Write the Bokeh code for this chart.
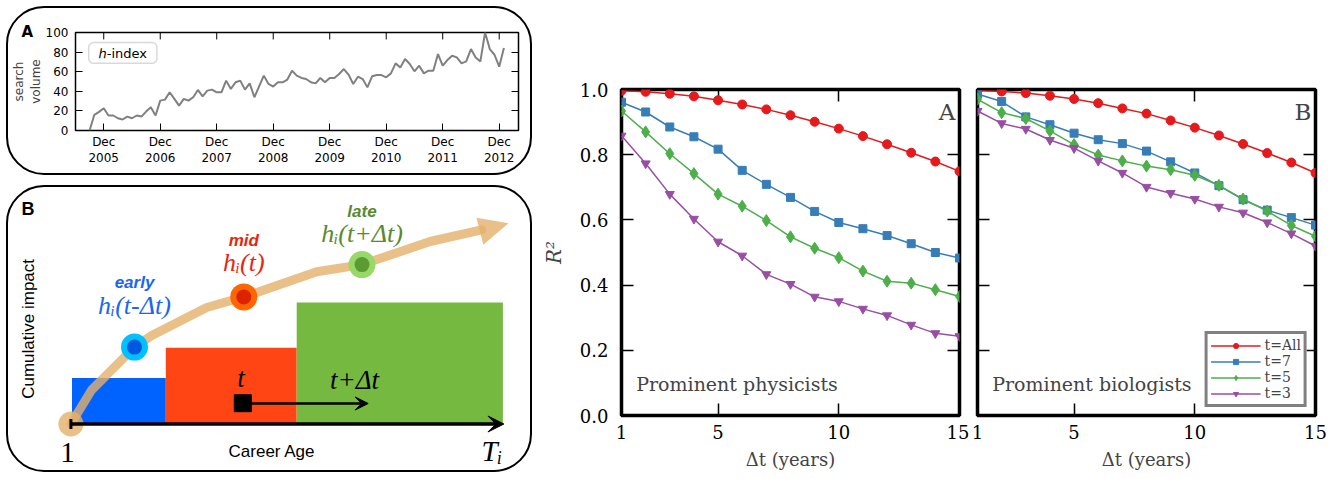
import math
from bokeh.plotting import figure
from bokeh.layouts import row, column
from bokeh.models import (Range1d, LinearAxis, FixedTicker, PrintfTickFormatter, Label, Title,
                          BoxAnnotation, Arrow, VeeHead, TeeHead, Legend, LegendItem, Spacer)
from bokeh.core.properties import value
from bokeh.embed import file_html
from bokeh.resources import INLINE

# ---------------- Panel A (left top): search volume of "h-index", monthly from Sep 2005
search_volume = [0, 16, 19, 22.7, 15.3, 15.3, 12.5, 11.2, 14.2, 12.5, 15.3, 14.2, 19.3, 23.7,
                 15.3, 30.5, 31.5, 39, 32.2, 25.4, 32.2, 30.5, 33.9, 41.4, 34.9, 40.7, 41.7,
                 39, 39, 50.9, 42.4, 49.2, 50.9, 41.7, 48.1, 33.9, 45, 56, 47.5, 44.8, 49.2,
                 49.2, 52, 61, 56, 53.6, 52.5, 49.2, 48.1, 53.6, 49.2, 53.6, 53.6, 57.6, 62.7,
                 57, 47.5, 54.9, 52.5, 44, 55.3, 56.6, 56.6, 54.3, 58.3, 68.5, 64.4, 72.9,
                 67.8, 60.4, 66.1, 58.3, 61, 61, 78, 66.1, 71.9, 76.3, 74.6, 68.5, 70.5, 83.1,
                 74.6, 70.5, 100, 83.1, 77.3, 65.1, 84.1]
month_index = list(range(len(search_volume)))          # months since Sep 2005
dec_ticks = [3, 15, 27, 39, 51, 63, 75, 87]
dec_labels = ["Dec\n2005", "Dec\n2006", "Dec\n2007", "Dec\n2008",
              "Dec\n2009", "Dec\n2010", "Dec\n2011", "Dec\n2012"]
volume_ticks = [0, 20, 40, 60, 80, 100]

# ---------------- Right panels: R^2 vs Delta t
dt_years = list(range(1, 16))
series_labels = ["t=All", "t=7", "t=5", "t=3"]
phys_all = [0.996, 0.993, 0.987, 0.979, 0.967, 0.954, 0.939, 0.921, 0.901, 0.880, 0.857, 0.832, 0.806, 0.779, 0.749]
phys_t7 = [0.961, 0.931, 0.885, 0.855, 0.817, 0.752, 0.709, 0.669, 0.626, 0.592, 0.573, 0.552, 0.527, 0.500, 0.483]
phys_t5 = [0.934, 0.870, 0.803, 0.742, 0.679, 0.642, 0.598, 0.548, 0.513, 0.484, 0.443, 0.412, 0.406, 0.386, 0.365]
phys_t3 = [0.858, 0.773, 0.679, 0.603, 0.533, 0.490, 0.433, 0.403, 0.364, 0.350, 0.327, 0.307, 0.278, 0.252, 0.243]
bio_all = [0.997, 0.994, 0.989, 0.981, 0.971, 0.958, 0.942, 0.926, 0.905, 0.883, 0.859, 0.833, 0.805, 0.776, 0.744]
bio_t7 = [0.986, 0.963, 0.916, 0.892, 0.866, 0.846, 0.834, 0.811, 0.778, 0.744, 0.705, 0.662, 0.630, 0.607, 0.584]
bio_t5 = [0.970, 0.929, 0.911, 0.873, 0.831, 0.799, 0.781, 0.765, 0.754, 0.737, 0.706, 0.664, 0.627, 0.583, 0.550]
bio_t3 = [0.934, 0.896, 0.879, 0.845, 0.820, 0.781, 0.744, 0.701, 0.682, 0.664, 0.640, 0.622, 0.592, 0.558, 0.520]
r2_ticks = [0.0, 0.2, 0.4, 0.6, 0.8, 1.0]
dt_ticks = [1, 5, 10, 15]

# ---------------- Schematic panel B geometry (drawing units = pixels of the panel)
phase_left = [71.5, 165.3, 296.2]
phase_right = [165.3, 296.2, 502.4]
phase_top = [377.6, 347.2, 302.0]
phase_bottom = [423.5, 423.5, 423.5]
phase_colors = ["#0062FF", "#FF4514", "#76B940"]
curve_x = [70.4, 91.1, 134, 151.2, 206.2, 243.3, 316.2, 361.5, 429.6, 481.1]
curve_y = [423.5, 389.5, 346.6, 335, 307, 296.4, 271.3, 264.1, 241, 229.4]
head_x = [476, 482.8, 508]
head_y = [217.2, 244.3, 222.8]
stage_x = [134, 243.3, 361.5]
stage_y = [346.6, 296.4, 264.1]
stage_outer = ["#00C0FF", "#FF6600", "#98D868"]
stage_inner = ["#0058E0", "#DD2200", "#5C9A34"]
stage_names = ["early", "mid", "late"]
stage_formulas = ["hᵢ(t-Δt)", "hᵢ(t)", "hᵢ(t+Δt)"]
stage_text_colors = ["#1A66F0", "#E8260E", "#5A8A2E"]
name_y = [282.2, 240.3, 211.3]
formula_y = [304.7, 262.4, 232.7]

SANS = "DejaVu Sans"
SERIF = "DejaVu Serif"
TAN = "#E3B06A"


def style_axis(ax, font, size, tick_len, ticks, lw=1.0, labels=True, standoff=6):
    ax.ticker = FixedTicker(ticks=ticks)
    ax.axis_line_color = None
    ax.major_tick_in = tick_len
    ax.major_tick_out = 0
    ax.minor_tick_in = 0
    ax.minor_tick_out = 0
    ax.minor_tick_line_color = None
    ax.major_tick_line_width = lw
    ax.major_tick_line_color = "black"
    ax.major_label_text_font = font
    ax.major_label_text_font_size = size
    if labels:
        ax.major_label_text_color = "black"
        ax.major_label_standoff = standoff
    else:
        ax.major_label_overrides = {t: "" for t in ticks}
        ax.major_label_text_color = None
        ax.major_label_standoff = 0


# ================= Figure A (time series)
figA = figure(width=522, height=165, x_range=Range1d(-3, 91.1), y_range=Range1d(0, 100),
              min_border_left=66, min_border_right=12, min_border_top=24, min_border_bottom=43,
              toolbar_location=None, output_backend="svg")
figA.background_fill_color = None
figA.border_fill_color = None
figA.grid.visible = False
figA.outline_line_color = "black"
figA.outline_line_width = 1.5
figA.line(month_index, search_volume, line_color="#808080", line_width=2)
# inward ticks on the top spine
figA.segment(x0=dec_ticks, y0=[100] * len(dec_ticks), x1=dec_ticks, y1=[92.9] * len(dec_ticks),
             line_color="black", line_width=1)

xa = figA.xaxis[0]
style_axis(xa, SANS, "12px", 7, dec_ticks, standoff=4)
xa.major_label_overrides = {t: lab for t, lab in zip(dec_ticks, dec_labels)}
ya = figA.yaxis[0]
style_axis(ya, SANS, "12px", 7, volume_ticks, standoff=7)
ya.axis_label = "search\nvolume"
ya.axis_label_text_font = SANS
ya.axis_label_text_font_size = "12px"
ya.axis_label_text_font_style = "normal"
ya.axis_label_standoff = 0
rightA = LinearAxis()
style_axis(rightA, SANS, "12px", 7, volume_ticks, labels=False)
figA.add_layout(rightA, "right")
figA.add_layout(Title(text="A", align="left", offset=-54, standoff=-17, vertical_align="bottom",
                      text_font=SANS, text_font_style="bold", text_font_size="15px",
                      text_color="black"), "above")

figA.add_layout(BoxAnnotation(left=-0.2, right=14.3, top=89.8, bottom=68.5,
                              fill_color="white", fill_alpha=1.0, line_color="#808080",
                              line_width=1.5, border_radius=5))
figA.add_layout(Label(x=7.05, y=79, text="ℎ-index", text_font=SANS, text_font_size="13px",
                      text_align="center", text_baseline="middle", text_color="black"))

# ================= Figure B (schematic)
figB = figure(width=522, height=283, x_range=Range1d(8, 530), y_range=Range1d(470, 187),
              min_border=0, x_axis_location=None, y_axis_location=None,
              toolbar_location=None, output_backend="svg")
figB.background_fill_color = None
figB.border_fill_color = None
figB.outline_line_color = None
figB.grid.visible = False

figB.quad(left=phase_left, right=phase_right, top=phase_top, bottom=phase_bottom,
          fill_color=phase_colors, line_color=None)
figB.add_layout(Arrow(x_start=curve_x[0], y_start=phase_bottom[0], x_end=phase_right[2] + 1,
                      y_end=phase_bottom[0], line_width=3.5, line_color="black",
                      start=TeeHead(size=10, line_width=3, line_color="black"),
                      end=VeeHead(size=16, fill_color="black", line_color="black")))
figB.scatter([242.3], [402.7], marker="square", size=17, fill_color="black", line_color="black")
figB.add_layout(Arrow(x_start=242.3, y_start=403, x_end=367.7, y_end=403, line_width=2.5,
                      line_color="black",
                      end=VeeHead(size=13, fill_color="black", line_color="black")))
figB.text(x=[240.5, 354], y=[377.9, 379.6], text=["t", "t+Δt"],
          text_font=value("Liberation Serif"), text_font_style="italic", text_font_size="27px",
          text_align="center", text_baseline="middle", text_color="black")

figB.line(curve_x, curve_y, line_color=TAN, line_width=9, line_alpha=0.8,
          line_join="round", line_cap="round")
figB.patch(head_x, head_y, fill_color=TAN, fill_alpha=0.8, line_color=None)
figB.scatter([curve_x[0]], [curve_y[0]], marker="circle", size=25, fill_color=TAN,
             fill_alpha=0.8, line_color=None)
figB.scatter(stage_x, stage_y, marker="circle", size=27, fill_color=stage_outer, line_color=None)
figB.scatter(stage_x, stage_y, marker="circle", size=15, fill_color=stage_inner, line_color=None)

figB.text(x=stage_x, y=name_y, text=stage_names, text_font=value("Liberation Sans"),
          text_font_style="bold italic", text_font_size="17px", text_align="center",
          text_baseline="middle", text_color=stage_text_colors)
figB.text(x=stage_x, y=formula_y, text=stage_formulas, text_font=value("Liberation Serif"),
          text_font_style="italic", text_font_size="26px", text_align="center",
          text_baseline="middle", text_color=stage_text_colors)
figB.text(x=[67], y=[452.2], text=["1"], text_font=value("Liberation Serif"),
          text_font_size="29px", text_align="center", text_baseline="middle", text_color="black")
figB.text(x=[491.4], y=[450.5], text=["Tᵢ"], text_font=value("Liberation Serif"),
          text_font_style="italic", text_font_size="29px", text_align="center",
          text_baseline="middle", text_color="black")
figB.text(x=[271.5], y=[450.5], text=["Career Age"], text_font=value("Liberation Sans"),
          text_font_size="17px", text_align="center", text_baseline="middle", text_color="black")
figB.text(x=[27.5], y=[328.4], text=["Cumulative impact"], text_font=value("Liberation Sans"),
          text_font_size="17px", text_align="center", text_baseline="middle",
          text_color="black", angle=math.pi / 2)
figB.text(x=[27.5], y=[208], text=["B"], text_font=value("Liberation Sans"),
          text_font_style="bold", text_font_size="18px", text_align="center",
          text_baseline="middle", text_color="black")

# ================= Right panels
colors = ["#E41A1C", "#377EB8", "#4DAF4A", "#984EA3"]
markers = ["circle", "square", "diamond", "inverted_triangle"]
msizes = [9, 8, 12, 9]


def make_panel(series, letter, group_text, width, bl, br, ylabels):
    p = figure(width=width, height=475, x_range=Range1d(1, 15), y_range=Range1d(0, 1),
               min_border_left=bl, min_border_right=br, min_border_top=89, min_border_bottom=60,
               toolbar_location=None, output_backend="svg")
    p.grid.visible = False
    p.outline_line_color = "black"
    p.outline_line_width = 3.5
    rends = []
    for vals, c, m, s in zip(series, colors, markers, msizes):
        ln = p.line(dt_years, vals, line_color=c, line_width=1.5)
        sc = p.scatter(dt_years, vals, marker=m, size=s, fill_color=c, line_color=c)
        rends.append([ln, sc])
    xa = p.xaxis[0]
    style_axis(xa, SERIF, "18px", 12, dt_ticks, lw=1.5, standoff=9)
    xa.axis_label = "Δt (years)"
    xa.axis_label_text_font = SERIF
    xa.axis_label_text_font_size = "18px"
    xa.axis_label_text_font_style = "normal"
    xa.axis_label_standoff = 7
    ya = p.yaxis[0]
    style_axis(ya, SERIF, "18px", 12, r2_ticks, lw=1.5, labels=ylabels, standoff=13)
    if ylabels:
        ya.formatter = PrintfTickFormatter(format="%.1f")
        ya.axis_label = "R²"
        ya.axis_label_text_font = SERIF
        ya.axis_label_text_font_size = "20px"
        ya.axis_label_text_font_style = "italic"
        ya.axis_label_standoff = 11
    top = LinearAxis(level="underlay")
    style_axis(top, SERIF, "18px", 12, dt_ticks, lw=1.5, labels=False)
    p.add_layout(top, "above")
    right = LinearAxis(level="underlay")
    style_axis(right, SERIF, "18px", 12, r2_ticks, lw=1.5, labels=False)
    p.add_layout(right, "right")
    p.add_layout(Label(x=1.61, y=0.097, text=group_text, text_font=SERIF,
                       text_font_size="19px", text_baseline="middle", text_align="left"))
    p.add_layout(Label(x=14.48, y=0.93, text=letter, text_font=SERIF,
                       text_font_size="23px", text_baseline="middle", text_align="center"))
    return p, rends


figR1, _ = make_panel([phys_all, phys_t7, phys_t5, phys_t3], "A", "Prominent physicists",
                      437, 89, 10, True)
figR2, rends2 = make_panel([bio_all, bio_t7, bio_t5, bio_t3], "B", "Prominent biologists",
                           362, 8, 16, False)
legend = Legend(items=[LegendItem(label=lab, renderers=r) for lab, r in zip(series_labels, rends2)],
                location="bottom_right", margin=8, padding=3, spacing=0,
                label_text_font=SERIF, label_text_font_size="14px",
                label_standoff=4, label_height=13, glyph_height=13, glyph_width=50,
                border_line_color="#808080", border_line_width=3, border_line_alpha=1.0,
                background_fill_color="white", background_fill_alpha=1.0)
figR2.add_layout(legend)

boxA = column(figA, styles={"border": "2px solid black", "border-radius": "38px"})
boxB = column(figB, styles={"border": "2px solid black", "border-radius": "38px"})
left = column(Spacer(height=6), boxA, Spacer(height=10), boxB)
layout = row(Spacer(width=6), left, figR1, figR2)

open("out.html", "w").write(file_html(layout, INLINE))
